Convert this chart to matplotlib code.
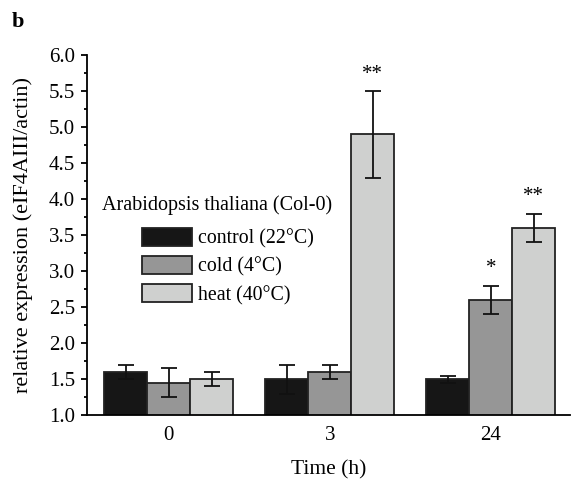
import numpy as np
import matplotlib; matplotlib.use("Agg")
import matplotlib.pyplot as plt
from matplotlib.ticker import MultipleLocator

plt.rcParams["font.family"] = ["Liberation Serif", "DejaVu Serif"]

times = ["0", "3", "24"]
series = ["control (22°C)", "cold (4°C)", "heat (40°C)"]
colors = ["#161616", "#969696", "#cfd0cf"]
values = [[1.6, 1.5, 1.5],
          [1.45, 1.6, 2.6],
          [1.5, 4.9, 3.6]]
errors = [[0.1, 0.2, 0.05],
          [0.2, 0.1, 0.2],
          [0.1, 0.6, 0.2]]
# significance marks: (series index, time index, label)
marks = [(2, 1, "**"), (1, 2, "*"), (2, 2, "**")]

fig = plt.figure(figsize=(5.71, 4.8), dpi=100)
ax = fig.add_axes([0.152, 0.135, 0.846, 0.75])
x = np.arange(len(times))
w = 0.267
for i, (name, c) in enumerate(zip(series, colors)):
    pos = x + (i - 1) * w
    ax.bar(pos, values[i], w, bottom=0, color=c, edgecolor="#222222", linewidth=1.3, label=name)
    ax.errorbar(pos, values[i], yerr=errors[i], fmt="none", ecolor="#111111",
                elinewidth=1.3, capsize=5.5, capthick=1.3)
for i, j, lab in marks:
    ax.text(x[j] + (i - 1) * w, values[i][j] + errors[i][j] + 0.1, lab,
            ha="center", va="bottom", fontsize=15)

ax.set_xlim(-0.51, 2.49)
ax.set_ylim(1.0, 6.0)
ax.set_xticks(x)
ax.set_xticklabels(times)
ax.yaxis.set_major_locator(MultipleLocator(0.5))
ax.yaxis.set_minor_locator(MultipleLocator(0.25))
ax.yaxis.set_major_formatter(plt.FormatStrFormatter("%.1f"))
ax.tick_params(axis="y", direction="out", length=4.5, width=1.3, labelsize=15, pad=4)
ax.tick_params(axis="y", which="minor", length=2.5, width=1.3)
ax.tick_params(axis="x", length=0, labelsize=15, pad=8)
for s in ["top", "right"]:
    ax.spines[s].set_visible(False)
for s in ["left", "bottom"]:
    ax.spines[s].set_linewidth(1.3)
ax.set_xlabel("Time (h)", fontsize=15.5, labelpad=11)
ax.set_ylabel("relative expression (eIF4AIII/actin)", fontsize=16)
ax.yaxis.set_label_coords(-0.112, 0.5)

fig.text(0.1786, 0.573, "Arabidopsis thaliana (Col-0)", fontsize=14.5, va="center", ha="left")
leg = ax.legend(loc="upper left", bbox_to_anchor=(0.2487, 0.525),
                bbox_transform=fig.transFigure, frameon=False, fontsize=14.3,
                handlelength=2.5, handleheight=1.0, handletextpad=0.3,
                labelspacing=0.38, borderpad=0, borderaxespad=0)

fig.text(0.021, 0.955, "b", fontsize=16, fontweight="bold", va="center")
fig.savefig("out.png", dpi=100)
